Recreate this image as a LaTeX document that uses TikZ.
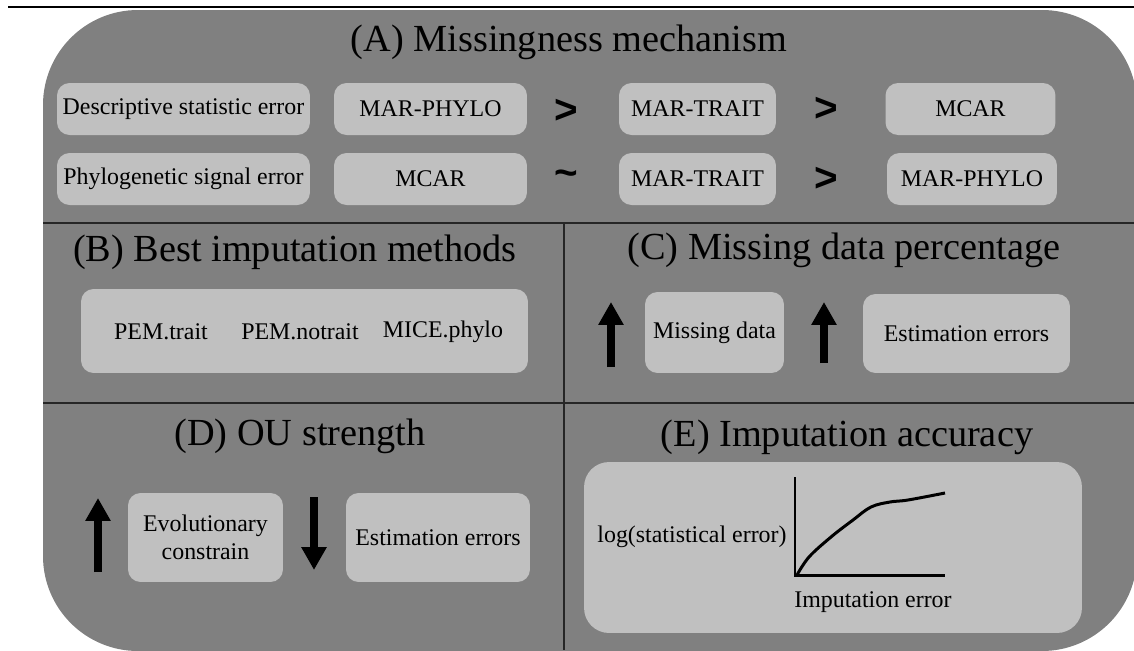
\documentclass[tikz,border=0pt]{standalone}
\usepackage{fontspec}
\setmainfont{Liberation Serif}
\newfontfamily\symfont{Liberation Sans}
\usetikzlibrary{arrows.meta, positioning}
\definecolor{greyBg}{RGB}{128,128,128}
\definecolor{greyBox}{RGB}{192,192,192}

\begin{document}
\begin{tikzpicture}[x=0.02cm, y=-0.02cm,
    box/.style={rectangle, rounded corners=0.25cm, fill=greyBox, inner sep=0pt,
      minimum height=1.04cm, align=center, font=\fontsize{13.6}{15.9}\selectfont},
    lbl/.style={inner sep=0pt, font=\fontsize{13.6}{15.9}\selectfont},
    title/.style={inner sep=0pt, font=\fontsize{21.8}{26}\selectfont},
    rel/.style={inner sep=0pt, font=\symfont\bfseries\fontsize{23}{27}\selectfont},
    arr/.style={-{Triangle[width=13.6pt, length=13pt]}, line width=4.5pt},
    sep/.style={draw=black!85, line width=0.8pt}]
    \useasboundingbox (0,0) rectangle (1134,650);
    \fill[greyBg, rounded corners=1.9cm] (43,10) rectangle (1137,651);
    \draw[line width=1.2pt] (8,7) -- (1134,7);
    \draw[sep] (43,223) -- (1134,223);
    \draw[sep] (43,403) -- (1134,403);
    \draw[sep] (564,223) -- (564,650);
    % (A)
    \node[title](ta) at (569,42) {(A) Missingness mechanism};
    \node[box, minimum width=5.06cm](desc) at (183.5,109) {Descriptive statistic error};
    \node[box, minimum width=3.86cm](a1) at (430.5,109) {MAR-PHYLO};
    \node[rel](g1) at (566,111) {>};
    \node[box, minimum width=3.14cm](a2) at (697.5,109) {MAR-TRAIT};
    \node[rel](g2) at (826,109) {>};
    \node[box, minimum width=3.4cm](a3) at (970.5,109) {MCAR};
    \node[box, minimum width=5.06cm](sig) at (183.5,179) {Phylogenetic signal error};
    \node[box, minimum width=3.86cm](b1) at (430.5,179) {MCAR};
    \node[rel](s1) at (566,178) {\textasciitilde};
    \node[box, minimum width=3.14cm](b2) at (697.5,179) {MAR-TRAIT};
    \node[rel](g3) at (826,179) {>};
    \node[box, minimum width=3.4cm](b3) at (972,179) {MAR-PHYLO};
    % (B)
    \node[title](tb) at (295,252) {(B) Best imputation methods};
    \node[box, minimum width=8.94cm, minimum height=1.68cm](mb) at (304.5,331) {};
    \node[lbl](m1) at (161,332) {PEM.trait};
    \node[lbl](m2) at (300,332) {PEM.notrait};
    \node[lbl](m3) at (443,332) {MICE.phylo};
    % (C)
    \node[title](tc) at (844,250) {(C) Missing data percentage};
    \draw[arr] (611,367) -- (611,302);
    \node[box, minimum width=2.78cm, minimum height=1.62cm](md) at (714.5,332.5) {Missing data};
    \draw[arr] (824,363) -- (824,302);
    \node[box, minimum width=4.14cm, minimum height=1.58cm](ee1) at (966.5,333.5) {Estimation errors};
    % (D)
    \node[title](td) at (300,436) {(D) OU strength};
    \draw[arr] (98,572) -- (98,498);
    \node[box, minimum width=3.1cm, minimum height=1.78cm](ec) at (205.5,537.5) {Evolutionary\\constrain};
    \draw[arr] (314,497) -- (314,570);
    \node[box, minimum width=3.68cm, minimum height=1.78cm](ee2) at (438,537.5) {Estimation errors};
    % (E)
    \node[title](te) at (847,437) {(E) Imputation accuracy};
    \node[box, rounded corners=0.5cm, minimum width=9.96cm, minimum height=3.42cm](acc) at (833,547.5) {};
    \draw[line width=1.7pt] (795,477) |- (945,575);
    \draw[line width=1.7pt] plot[smooth, tension=0.6] coordinates
      {(797,575) (809,557) (831,537) (853,520) (871,507) (890,502) (908,500) (945,493)};
    \node[lbl](ly) at (692,537) {log(statistical error)};
    \node[lbl](lx) at (873,602) {Imputation error};
  \end{tikzpicture}
\end{document}
